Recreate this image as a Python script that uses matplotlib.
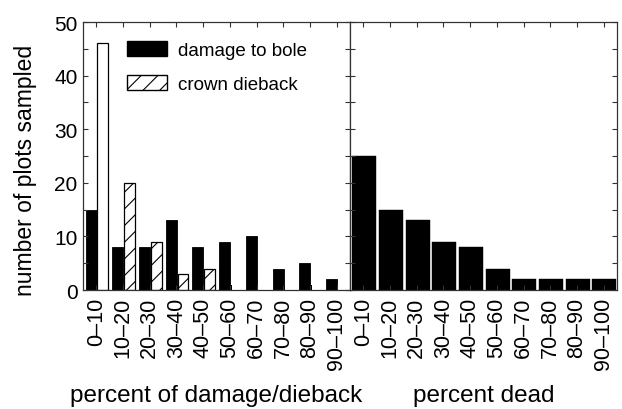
import numpy as np
import matplotlib
matplotlib.use('Agg')
import matplotlib.pyplot as plt
from matplotlib.patches import Patch

plt.rcParams['font.family'] = ['Liberation Sans', 'DejaVu Sans']
plt.rcParams['hatch.linewidth'] = 0.8

# data
classes = ['0–10', '10–20', '20–30', '30–40', '40–50',
           '50–60', '60–70', '70–80', '80–90', '90–100']
bole_damage = [15, 8, 8, 13, 8, 9, 10, 4, 5, 2]
crown_dieback = [46, 20, 9, 3, 4, 0, 0, 0, 0, 0]
crown_hatched = [False, True, True, True, True, True, True, True, True, True]
small_black = [1, 0, 0, 0, 0, 1, 1, 1, 1, 0]
percent_dead = [25, 15, 13, 9, 8, 4, 2, 2, 2, 2]

spine_col = '#333333'

fig = plt.figure(figsize=(6.22, 4.10), dpi=100)
ax1 = fig.add_axes([0.1334, 0.2902, 0.4293, 0.6537])
ax2 = fig.add_axes([0.5627, 0.2902, 0.4293, 0.6537], sharey=ax1)

x = np.arange(len(classes))

# left panel: damage and dieback
ax1.bar(x - 0.40, bole_damage, width=0.41, align='edge', color='black',
        edgecolor='black', linewidth=0.6)
crown_bars = ax1.bar(x + 0.04, crown_dieback, width=0.41, align='edge',
                     color='white', edgecolor='black', linewidth=0.9)
for bar, h, v in zip(crown_bars, crown_hatched, crown_dieback):
    if v == 0:
        bar.set_visible(False)
    elif h:
        bar.set_hatch('//')
ax1.bar(x + 0.01, small_black, width=0.06, align='edge', color='black',
        linewidth=0)

# right panel: percent dead
ax2.bar(x + 0.03, percent_dead, width=0.9, color='black', edgecolor='black',
        linewidth=0.3)

for ax in (ax1, ax2):
    ax.set_xlim(-0.5, 9.5)
    ax.set_ylim(0, 50)
    ax.set_xticks(x)
    ax.set_xticklabels(classes, rotation=90, fontsize=15.5)
    ax.set_yticks(np.arange(0, 51, 10))
    ax.set_yticks(np.arange(5, 50, 10), minor=True)
    ax.tick_params(which='both', direction='in', top=True, right=True,
                   length=3.5, width=0.8, color=spine_col)
    ax.tick_params(axis='x', pad=5)
    for s in ax.spines.values():
        s.set_color(spine_col)
        s.set_linewidth(0.9)

ax1.tick_params(axis='y', labelsize=15, pad=4)
ax2.tick_params(axis='y', labelleft=False)

ax1.set_ylabel('number of plots sampled', fontsize=16.5)
ax1.yaxis.set_label_coords(-0.172, 0.45)
ax1.set_xlabel('percent of damage/dieback', fontsize=17.5)
ax1.xaxis.set_label_coords(0.5, -0.352)
ax2.set_xlabel('percent dead', fontsize=17.5)
ax2.xaxis.set_label_coords(0.5, -0.352)

handles = [Patch(facecolor='black', edgecolor='black', label='damage to bole'),
           Patch(facecolor='white', edgecolor='black', hatch='//',
                 label='crown dieback')]
ax1.legend(handles=handles, loc='upper left', bbox_to_anchor=(0.1637, 0.928),
           frameon=False, fontsize=13.5, handlelength=2.15, handleheight=0.85,
           handletextpad=0.6, labelspacing=0.85, borderpad=0, borderaxespad=0)

fig.savefig('out.png', dpi=100)
